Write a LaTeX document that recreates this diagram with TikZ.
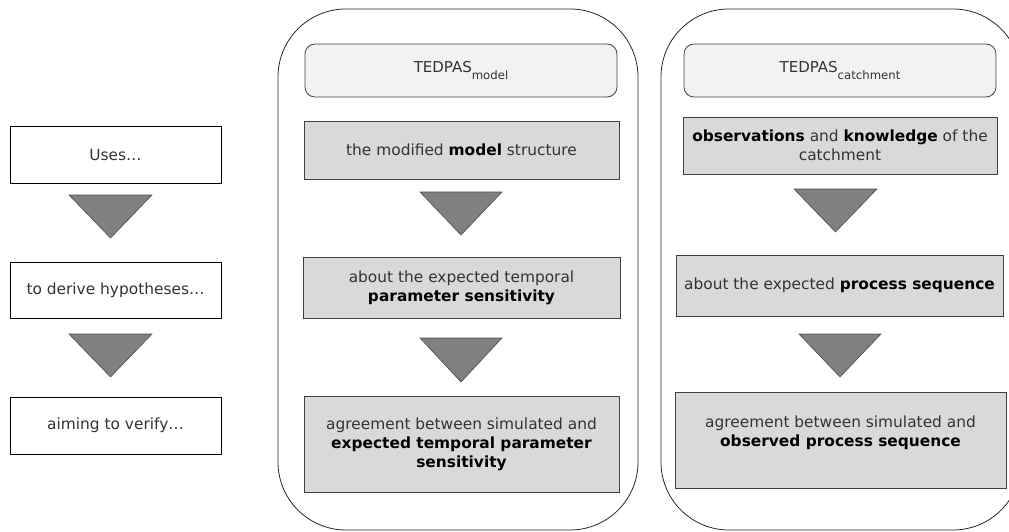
\documentclass[tikz,border=0pt]{standalone}
\usepackage{fontspec}
\setmainfont{DejaVu Sans}
\definecolor{txt}{HTML}{333333}
\definecolor{gfill}{HTML}{D9D9D9}
\definecolor{hfill}{HTML}{F2F2F2}
\definecolor{gborder}{HTML}{404040}
\definecolor{trifill}{HTML}{808080}
\definecolor{tridraw}{HTML}{4D4D4D}
\definecolor{contdraw}{HTML}{262626}
\newcommand\myfs{\fontsize{15.4}{19}\selectfont}
\newcommand\mysub[1]{\raisebox{-7.5pt}{\fontsize{11.7}{12}\selectfont #1}}
\newcommand\mb[1]{\textbf{\color{black}#1}}
\begin{document}
\begin{tikzpicture}[x=1pt,y=-1pt,
  base/.style={inner sep=0pt, outer sep=0pt, align=center, font=\myfs, text=txt},
  lbox/.style={base, draw=black, line width=0.8pt, fill=white},
  gbox/.style={base, draw=gborder, line width=0.8pt, fill=gfill},
  hbox/.style={base, draw=gborder, line width=0.8pt, fill=hfill, rounded corners=10pt},
  cont/.style={inner sep=0pt, draw=contdraw, line width=0.8pt, rounded corners=68pt},
  tri/.style={fill=trifill, draw=tridraw, line width=0.6pt, line join=miter}]
\useasboundingbox (0,0) rectangle (1009,532);
\clip (0,0) rectangle (1009,532);

% containers
\node[cont, minimum width=360pt, minimum height=521pt] (MC) at (458,269.5) {};
\node[cont, minimum width=360pt, minimum height=521pt] (RC) at (841,269.5) {};

% left column
\node[lbox, minimum width=211pt, minimum height=57pt] (L1) at (115.5,154.5) {Uses…};
\node[lbox, minimum width=211pt, minimum height=56pt] (L2) at (115.5,290) {to derive hypotheses…};
\node[lbox, minimum width=211pt, minimum height=57pt] (L3) at (115.5,425.5) {aiming to verify…};
\draw[tri] (69,195) -- (152,195) -- (110.5,238) -- cycle;
\draw[tri] (69,334) -- (152,334) -- (110.5,377) -- cycle;

% middle column
\node[hbox, minimum width=312pt, minimum height=53pt] (MH) at (461,70.5) {\fontsize{15}{18}\selectfont TEDPAS\mysub{model}};
\node[gbox, minimum width=315pt, minimum height=58pt] (MB1) at (461.5,150) {the modified \mb{model} structure};
\node[gbox, minimum width=317pt, minimum height=61pt] (MB2) at (461.5,287.5) {about the expected temporal\\\mb{parameter sensitivity}};
\node[gbox, minimum width=315pt, minimum height=96pt] (MB3) at (461.5,444) {agreement between simulated and\\\mb{expected temporal parameter}\\\mb{sensitivity}};
\draw[tri] (420,192) -- (502,192) -- (461,235) -- cycle;
\draw[tri] (420,338) -- (502,338) -- (461,382) -- cycle;

% right column
\node[hbox, minimum width=312pt, minimum height=53pt] (RH) at (840,70.5) {\fontsize{15}{18}\selectfont TEDPAS\mysub{catchment}};
\node[gbox, minimum width=314pt, minimum height=57pt] (RB1) at (840,145.5) {\mb{observations} and \mb{knowledge} of the\\catchment};
\node[gbox, minimum width=327pt, minimum height=61pt] (RB2) at (839.5,285.5) {about the expected \mb{process sequence}};
\node[gbox, minimum width=331pt, minimum height=96pt] (RB3) at (840.5,440) {};
\node[base] (RB3t) at (840.5,432.5) {agreement between simulated and\\\mb{observed process sequence}};
\draw[tri] (794,189) -- (877,189) -- (835.5,232) -- cycle;
\draw[tri] (799,334) -- (881,334) -- (840,377) -- cycle;
\end{tikzpicture}
\end{document}
